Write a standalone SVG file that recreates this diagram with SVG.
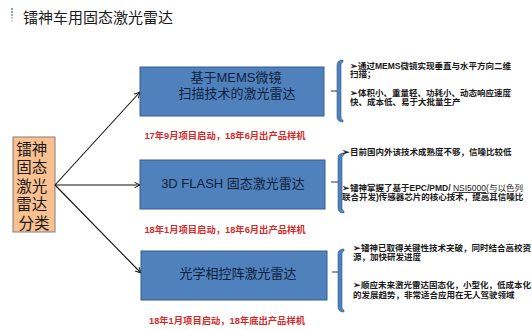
<svg xmlns="http://www.w3.org/2000/svg" width="532" height="330" viewBox="0 0 532 330">
<defs>
<style>
.cjk{font-family:"Liberation Sans","Noto Sans CJK SC",sans-serif}
.title{font-size:15px;fill:#1a1a1a}
.box{fill:#4f81bd;stroke:#385d8a;stroke-width:1}
.btxt{font-size:13px;fill:#0f1f3a;text-anchor:middle}
.red{font-size:9.3px;font-weight:bold;fill:#d42a2a;text-anchor:middle}
.note{font-size:8.5px;font-weight:bold;fill:#1a1a1a}
.conn{stroke:#111;stroke-width:1.1;fill:none;marker-end:url(#ah)}
.brk{fill:#4f81bd;stroke:#385d8a;stroke-width:0.6}
.tick{stroke:#333;stroke-width:1}
</style>
<marker id="ah" viewBox="0 0 10 10" refX="9" refY="5" markerWidth="7" markerHeight="7" orient="auto" markerUnits="userSpaceOnUse">
<path d="M1,1 L9,5 L1,9" fill="none" stroke="#111" stroke-width="1.4"/>
</marker>
</defs>
<rect width="532" height="330" fill="#ffffff"/>

<g id="title">
<circle cx="12" cy="9" r="1" fill="#4f81bd"/>
<circle cx="12" cy="12" r="1" fill="#4f81bd"/>
<circle cx="12" cy="15" r="1" fill="#6f95c8"/>
<circle cx="12" cy="18" r="1" fill="#9ab4d8"/>
<circle cx="12" cy="21" r="1" fill="#c4d3e8"/>
<text class="cjk title" x="23" y="22.5">镭神车用固态激光雷达</text>
</g>

<g id="category">
<rect x="13" y="137" width="42" height="95" fill="#fac090" stroke="#7f7f7f" stroke-width="1"/>
<text class="cjk" font-size="15.5" fill="#1a1a1a" text-anchor="middle">
<tspan x="34" y="154.5">镭神</tspan>
<tspan x="34" y="173">固态</tspan>
<tspan x="34" y="191.5">激光</tspan>
<tspan x="34" y="210">雷达</tspan>
<tspan x="34" y="228.5">分类</tspan>
</text>
</g>

<g id="connectors">
<line class="conn" x1="55" y1="185" x2="140" y2="92"/>
<line class="conn" x1="55" y1="185" x2="140" y2="185"/>
<line class="conn" x1="55" y1="185" x2="141" y2="273"/>
</g>

<g id="mems">
<rect class="box" x="140" y="67" width="184" height="49"/>
<text class="cjk btxt" x="236" y="82">基于MEMS微镜</text>
<text class="cjk btxt" x="237" y="98">扫描技术的激光雷达</text>
<text class="cjk red" x="225" y="138.5">17年9月项目启动，18年6月出产品样机</text>
</g>

<g id="flash">
<rect class="box" x="140" y="160" width="185" height="49"/>
<text class="cjk btxt" x="233" y="188">3D FLASH 固态激光雷达</text>
<text class="cjk red" x="225" y="232.5">18年1月项目启动，18年6月出产品样机</text>
</g>

<g id="opa">
<rect class="box" x="141" y="251" width="186" height="49"/>
<text class="cjk btxt" x="238" y="278">光学相控阵激光雷达</text>
<text class="cjk red" x="227" y="323.5">18年1月项目启动，18年底出产品样机</text>
</g>

<g id="notes-mems">
<line class="tick" x1="331" y1="91" x2="337" y2="91"/>
<path class="brk" d="M343,60 Q337,60 337,65 L337,117 Q337,122 343,122 L343,120 Q341,120 341,117 L341,65 Q341,62 343,62 Z"/>
<text class="cjk note" x="350" y="68.5">➢通过MEMS微镜实现垂直与水平方向二维</text>
<text class="cjk note" x="350" y="77">扫描；</text>
<text class="cjk note" x="350" y="96">➢体积小、重量轻、功耗小、动态响应速度</text>
<text class="cjk note" x="350" y="105">快、成本低、易于大批量生产</text>
</g>

<g id="notes-flash">
<line class="tick" x1="331" y1="182" x2="338" y2="182"/>
<path class="brk" d="M344,153 Q338,153 338,158 L338,208 Q338,213 344,213 L344,211 Q342,211 342,208 L342,158 Q342,155 344,155 Z"/>
<text class="cjk note" x="342" y="154.5">➢目前国内外该技术成熟度不够，信噪比较低</text>
<text class="cjk note" x="342" y="191">➢镭神掌握了基于EPC/PMD/ <tspan font-weight="normal" text-decoration="underline">NSI5000</tspan><tspan font-weight="normal">(与以色列</tspan></text>
<text class="cjk note" x="342" y="200">联合开发)传感器芯片的核心技术，提高其信噪比</text>
</g>

<g id="notes-opa">
<line class="tick" x1="332" y1="272" x2="338" y2="272"/>
<path class="brk" d="M344,249 Q338,249 338,254 L338,307 Q338,312 344,312 L344,310 Q342,310 342,307 L342,254 Q342,251 344,251 Z"/>
<text class="cjk note" x="353" y="251">➢镭神已取得关键性技术突破，同时结合高校资</text>
<text class="cjk note" x="353" y="260">源，加快研发进度</text>
<text class="cjk note" x="353" y="288">➢顺应未来激光雷达固态化，小型化，低成本化</text>
<text class="cjk note" x="353" y="297.5">的发展趋势，非常适合应用在无人驾驶领域</text>
</g>
</svg>
